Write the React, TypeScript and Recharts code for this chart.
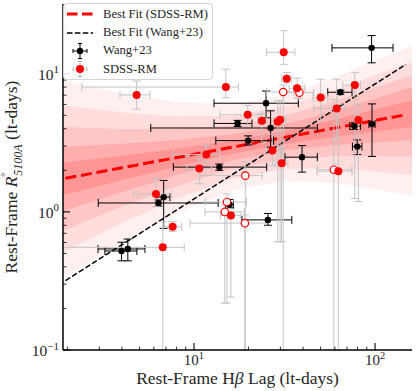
import React from 'react';
import {
  ComposedChart,
  XAxis,
  YAxis,
  Scatter,
  ErrorBar,
  Line,
  Area,
  Legend,
  Label,
} from 'recharts';

const FONT = '"Liberation Serif", "DejaVu Serif", serif';
const TEXT = '#262626';

// axes
const xDomain = [1.89, 160];
const yDomain = [0.1, 32];
const xTicks = [2, 3, 4, 5, 6, 7, 8, 9, 10, 20, 30, 40, 50, 60, 70, 80, 90, 100];
const yTicks = [
  0.1, 0.2, 0.3, 0.4, 0.5, 0.6, 0.7, 0.8, 0.9, 1, 2, 3, 4, 5, 6, 7, 8, 9, 10, 20, 30,
];

const legendLabels = ['Best Fit (SDSS-RM)', 'Best Fit (Wang+23)', 'Wang+23', 'SDSS-RM'];

// Wang+23 (black)
const wangLag = [95.7, 64.3, 76.9, 25.0, 26.5, 96.2, 79.8, 39.5, 17.4, 19.9, 13.8, 6.8, 6.36, 3.98, 4.31, 15.7, 25.6];
const wangLagLo = [57.8, 54.8, 72.5, 12.9, 5.77, 92.5, 75.0, 31.8, 12.9, 13.2, 7.69, 6.22, 2.96, 3.22, 2.95, 14.9, 18.4];
const wangLagHi = [125.7, 74.6, 83.0, 37.7, 48.0, 100, 84.6, 48.0, 20.9, 27.5, 25.2, 7.36, 13.6, 4.84, 5.36, 16.5, 34.7];
const wangR = [15.4, 7.35, 4.18, 6.12, 4.05, 4.32, 2.97, 2.49, 4.37, 3.28, 2.11, 1.28, 1.16, 0.521, 0.539, 1.13, 0.875];
const wangRLo = [12.0, 7.1, 3.95, 4.8, 2.94, 2.52, 2.6, 1.94, 4.15, 3.05, 2.0, 0.76, 1.1, 0.442, 0.442, 1.07, 0.8];
const wangRHi = [18.9, 7.6, 4.42, 7.5, 5.39, 6.05, 3.32, 3.02, 4.6, 3.55, 2.22, 1.69, 1.22, 0.603, 0.636, 1.23, 0.974];

// SDSS-RM (filled red)
const sdssLag = [15.0, 4.82, 31.3, 32.5, 37.1, 50.1, 77.3, 80.9, 61.4, 19.8, 23.7, 29.0, 29.9, 11.7, 10.7, 27.1, 30.5, 16.0, 62.7, 6.17, 7.62, 6.72];
const sdssLagLo = [2.4, 3.9, 25.2, 30.5, 33.5, 45.4, 66.4, 78.0, 45.8, 13.9, 22.5, 27.5, 28.0, 7.69, 9.12, 25.0, 28.0, 14.0, 47.9, 4.62, 6.76, 1.89];
const sdssLagHi = [17.6, 5.71, 36.1, 34.5, 41.0, 54.9, 83.0, 84.0, 68.5, 23.8, 25.0, 30.5, 32.0, 13.9, 12.5, 30.0, 33.0, 18.0, 74.6, 7.5, 8.55, 8.83];
const sdssR = [8.02, 7.03, 14.3, 9.2, 7.85, 6.72, 8.29, 4.62, 5.6, 5.05, 4.57, 4.49, 4.64, 2.6, 2.06, 2.78, 2.25, 0.942, 1.97, 1.35, 0.78, 0.554];
const sdssRLo = [6.72, 5.54, 11.7, 8.61, 6.7, 4.57, 1.25, 1.19, 3.3, 4.3, 3.12, 0.608, 0.608, 2.25, 1.6, 2.17, 0.608, 0.242, 0.1, 1.09, 0.72, 0.1];
const sdssRHi = [10.8, 8.86, 20.5, 10.2, 9.3, 9.12, 10.2, 6.03, 9.12, 5.9, 5.13, 6.37, 6.37, 3.02, 2.43, 3.66, 2.9, 1.0, 6.0, 1.74, 0.85, 0.848];

// SDSS-RM (open red)
const openLag = [31.1, 38.2, 19.2, 15.2, 14.8, 19.1, 59.2];
const openLagLo = [25.2, 31.5, 10.8, 11.5, 11.5, 9.5, 47.9];
const openLagHi = [35.6, 45.8, 23.8, 19.5, 19.0, 25.0, 74.6];
const openR = [7.38, 7.3, 1.83, 1.18, 1.0, 0.829, 2.02];
const openRLo = [0.1, 6.6, 0.1, 0.219, 0.219, 0.1, 0.1];
const openRHi = [8.3, 8.1, 2.3, 1.35, 1.12, 0.95, 6.5];

// best fits
const fitLag = [1.95, 148];
const sdssFitR = [1.75, 5.05];
const wangFitR = [0.318, 11.7];

// spread of the SDSS-RM fit samples, nested bands (outer -> inner)
const bandLag = [1.89, 4, 8, 16, 32, 64, 160];
const band1Lo = [0.337, 0.601, 0.979, 1.42, 1.68, 1.61, 1.31];
const band1Hi = [8.91, 7.23, 6.24, 6.01, 7.0, 9.8, 16.0];
const band2Lo = [0.511, 0.826, 1.245, 1.72, 2.04, 2.06, 1.85];
const band2Hi = [5.89, 5.26, 4.91, 4.97, 5.8, 7.9, 12.2];
const band3Lo = [0.731, 1.09, 1.53, 2.04, 2.41, 2.54, 2.51];
const band3Hi = [4.11, 3.99, 3.98, 4.2, 4.99, 6.5, 9.8];
const band4Lo = [1.01, 1.39, 1.85, 2.35, 2.79, 3.06, 3.3];
const band4Hi = [2.96, 3.12, 3.31, 3.64, 4.32, 5.52, 8.02];
const band5Lo = [1.32, 1.7, 2.13, 2.62, 3.1, 3.55, 4.11];
const band5Hi = [2.27, 2.55, 2.86, 3.26, 3.87, 4.76, 6.43];
const bandOpacity = [0.06, 0.08, 0.1, 0.12, 0.14];

const toRows = (lag: number[], lagLo: number[], lagHi: number[], r: number[], rLo: number[], rHi: number[]) =>
  lag.map((x, i) => ({
    x,
    y: r[i],
    ex: [x - lagLo[i], lagHi[i] - x],
    ey: [r[i] - rLo[i], rHi[i] - r[i]],
  }));

const wangRows = toRows(wangLag, wangLagLo, wangLagHi, wangR, wangRLo, wangRHi);
const sdssRows = toRows(sdssLag, sdssLagLo, sdssLagHi, sdssR, sdssRLo, sdssRHi);
const openRows = toRows(openLag, openLagLo, openLagHi, openR, openRLo, openRHi);

const sdssFit = fitLag.map((x, i) => ({ x, y: sdssFitR[i] }));
const wangFit = fitLag.map((x, i) => ({ x, y: wangFitR[i] }));

const bands = [
  [band1Lo, band1Hi],
  [band2Lo, band2Hi],
  [band3Lo, band3Hi],
  [band4Lo, band4Hi],
  [band5Lo, band5Hi],
].map(([lo, hi]) => bandLag.map((x, i) => ({ x, range: [lo[i], hi[i]] })));

const isMajor = (v: number) => Math.abs(Math.log10(v) - Math.round(Math.log10(v))) < 1e-6;
const expText = (v: number) => {
  const e = Math.round(Math.log10(v));
  return e < 0 ? `\u2212${-e}` : `${e}`;
};

const tickLen = (v: number) => (isMajor(v) ? 7 : 3.5);
const tickW = (v: number) => (isMajor(v) ? 1.1 : 0.8);

const BottomTick = (props: any) => {
  const { x, y, payload } = props;
  const v = payload.value;
  return (
    <g>
      <line x1={x} x2={x} y1={y} y2={y - tickLen(v)} stroke="#000" strokeWidth={tickW(v)} />
      {isMajor(v) && (
        <text x={x} y={y + 15} textAnchor="middle" fontFamily={FONT} fontSize={15} fill={TEXT}>
          10<tspan dy={-6.5} fontSize={10.5}>{expText(v)}</tspan>
        </text>
      )}
    </g>
  );
};

const TopTick = (props: any) => {
  const { x, y, payload } = props;
  const v = payload.value;
  return <line x1={x} x2={x} y1={y} y2={y + tickLen(v)} stroke="#000" strokeWidth={tickW(v)} />;
};

const LeftTick = (props: any) => {
  const { x, y, payload } = props;
  const v = payload.value;
  return (
    <g>
      <line x1={x} x2={x + tickLen(v)} y1={y} y2={y} stroke="#000" strokeWidth={tickW(v)} />
      {isMajor(v) && (
        <text x={x - 4} y={y + 6} textAnchor="end" fontFamily={FONT} fontSize={15.5} fill={TEXT}>
          10<tspan dy={-6.5} fontSize={11}>{expText(v)}</tspan>
        </text>
      )}
    </g>
  );
};

const RightTick = (props: any) => {
  const { x, y, payload } = props;
  const v = payload.value;
  return <line x1={x} x2={x - tickLen(v)} y1={y} y2={y} stroke="#000" strokeWidth={tickW(v)} />;
};

const XTitle = (props: any) => {
  const vb = props.viewBox || { x: 63, y: 350, width: 349 };
  return (
    <text x={vb.x + vb.width / 2} y={vb.y + 34} textAnchor="middle" fontFamily={FONT} fontSize={17.5} fill={TEXT}>
      Rest-Frame H<tspan fontStyle="italic">β</tspan> Lag (lt-days)
    </text>
  );
};

const YTitle = (props: any) => {
  const vb = props.viewBox || { y: 4, height: 346 };
  const cx = 17;
  const cy = vb.y + vb.height / 2;
  return (
    <text
      x={cx}
      y={cy}
      transform={`rotate(-90, ${cx}, ${cy})`}
      textAnchor="middle"
      fontFamily={FONT}
      fontSize={17.5}
      fill={TEXT}
    >
      Rest-Frame <tspan fontStyle="italic">R</tspan>
      <tspan dy={-8} dx={0} fontSize={10}>°</tspan>
      <tspan dy={13} dx={-3} fontSize={12} fontStyle="italic">5100A</tspan>
      <tspan dy={-5}> (lt-days)</tspan>
    </text>
  );
};

const ErrPoint = ({ color, bar, r }: { color: string; bar: string; r: number }) => (
  <g>
    <line x1={15} x2={15} y1={1.5} y2={16.5} stroke={bar} strokeWidth={1} />
    <line x1={13} x2={17} y1={1.5} y2={1.5} stroke={bar} strokeWidth={1} />
    <line x1={13} x2={17} y1={16.5} y2={16.5} stroke={bar} strokeWidth={1} />
    <line x1={8} x2={22} y1={9} y2={9} stroke={bar} strokeWidth={1} />
    <line x1={8} x2={8} y1={7} y2={11} stroke={bar} strokeWidth={1} />
    <line x1={22} x2={22} y1={7} y2={11} stroke={bar} strokeWidth={1} />
    <circle cx={15} cy={9} r={r} fill={color} />
  </g>
);

const legendIcon = (i: number) => {
  if (i === 0) return <line x1={2} x2={28} y1={9} y2={9} stroke="#ff0000" strokeWidth={3} strokeDasharray="10.5 4.5" />;
  if (i === 1) return <line x1={2} x2={28} y1={9} y2={9} stroke="#000" strokeWidth={1.5} strokeDasharray="5.5 2.4" />;
  if (i === 2) return <ErrPoint color="#000" bar="#000" r={3.2} />;
  return <ErrPoint color="#ff0000" bar="#bdbdbd" r={4} />;
};

const LegendBox = () => (
  <div
    style={{
      boxSizing: 'border-box',
      width: 150,
      height: 77,
      paddingTop: 1,
      border: '1px solid #d4d4d4',
      borderRadius: 4,
      background: 'rgba(255,255,255,0.85)',
      fontFamily: FONT,
      fontSize: 12.6,
      color: TEXT,
    }}
  >
    {legendLabels.map((label, i) => (
      <div key={label} style={{ display: 'flex', alignItems: 'center', height: 18.4 }}>
        <svg width={38} height={18} style={{ flex: 'none', marginLeft: 1 }}>
          {legendIcon(i)}
        </svg>
        <span style={{ whiteSpace: 'nowrap' }}>{label}</span>
      </div>
    ))}
  </div>
);

const redDot = (p: any) => <circle cx={p.cx} cy={p.cy} r={4} fill="#ff0000" />;
const openDot = (p: any) => <circle cx={p.cx} cy={p.cy} r={3.7} fill="#fff" stroke="#ff0000" strokeWidth={1.2} />;
const blackDot = (p: any) => <circle cx={p.cx} cy={p.cy} r={3.2} fill="#000" />;

const axisLine = { stroke: '#000', strokeWidth: 1.5 };

export default function App() {
  return (
    <div style={{ position: 'absolute', left: 0, top: 0, width: 416, height: 391, background: '#fff' }}>
      <ComposedChart width={416} height={391} margin={{ top: 4, right: 4, bottom: 0, left: 0 }}>
        <XAxis
          dataKey="x"
          type="number"
          scale="log"
          domain={xDomain}
          allowDataOverflow
          ticks={xTicks}
          interval={0}
          tick={(p: any) => <BottomTick {...p} />}
          tickLine={false}
          tickSize={0}
          tickMargin={0}
          height={41}
          axisLine={axisLine}
        >
          <Label content={XTitle} />
        </XAxis>
        <XAxis
          xAxisId="top"
          orientation="top"
          dataKey="x"
          type="number"
          scale="log"
          domain={xDomain}
          allowDataOverflow
          ticks={xTicks}
          interval={0}
          tick={(p: any) => <TopTick {...p} />}
          tickLine={false}
          tickSize={0}
          tickMargin={0}
          height={0}
          axisLine={axisLine}
        />
        <YAxis
          dataKey="y"
          type="number"
          scale="log"
          domain={yDomain}
          allowDataOverflow
          ticks={yTicks}
          interval={0}
          tick={(p: any) => <LeftTick {...p} />}
          tickLine={false}
          tickSize={0}
          tickMargin={0}
          width={63}
          axisLine={axisLine}
        >
          <Label content={YTitle} />
        </YAxis>
        <YAxis
          yAxisId="right"
          orientation="right"
          dataKey="y"
          type="number"
          scale="log"
          domain={yDomain}
          allowDataOverflow
          ticks={yTicks}
          interval={0}
          tick={(p: any) => <RightTick {...p} />}
          tickLine={false}
          tickSize={0}
          tickMargin={0}
          width={0}
          axisLine={axisLine}
        />

        {bands.map((rows, i) => (
          <Area
            key={`band-${i}`}
            data={rows}
            dataKey="range"
            type="linear"
            stroke="none"
            fill="#ff0000"
            fillOpacity={bandOpacity[i]}
            isAnimationActive={false}
            legendType="none"
          />
        ))}

        <Line
          data={sdssFit}
          dataKey="y"
          name="Best Fit (SDSS-RM)"
          stroke="#ff0000"
          strokeWidth={3}
          strokeDasharray="11 4.8"
          dot={false}
          isAnimationActive={false}
        />
        <Line
          data={wangFit}
          dataKey="y"
          name="Best Fit (Wang+23)"
          stroke="#000"
          strokeWidth={1.5}
          strokeDasharray="5.5 2.4"
          dot={false}
          isAnimationActive={false}
        />

        <Scatter data={wangRows} name="Wang+23" shape={blackDot} isAnimationActive={false}>
          <ErrorBar dataKey="ex" direction="x" stroke="#000" strokeWidth={1} width={4} />
          <ErrorBar dataKey="ey" direction="y" stroke="#000" strokeWidth={1} width={4} />
        </Scatter>
        <Scatter data={openRows} name="SDSS-RM open" shape={openDot} isAnimationActive={false}>
          <ErrorBar dataKey="ex" direction="x" stroke="#c4c4c4" strokeWidth={1} width={4} />
          <ErrorBar dataKey="ey" direction="y" stroke="#c4c4c4" strokeWidth={1} width={4} />
        </Scatter>
        <Scatter data={sdssRows} name="SDSS-RM" shape={redDot} isAnimationActive={false}>
          <ErrorBar dataKey="ex" direction="x" stroke="#c4c4c4" strokeWidth={1} width={4} />
          <ErrorBar dataKey="ey" direction="y" stroke="#c4c4c4" strokeWidth={1} width={4} />
        </Scatter>

        <Legend
          layout="vertical"
          align="center"
          verticalAlign="middle"
          content={() => <LegendBox />}
          wrapperStyle={{ left: 63, top: 3, width: 150, height: 77, margin: 0 }}
        />
      </ComposedChart>
    </div>
  );
}
